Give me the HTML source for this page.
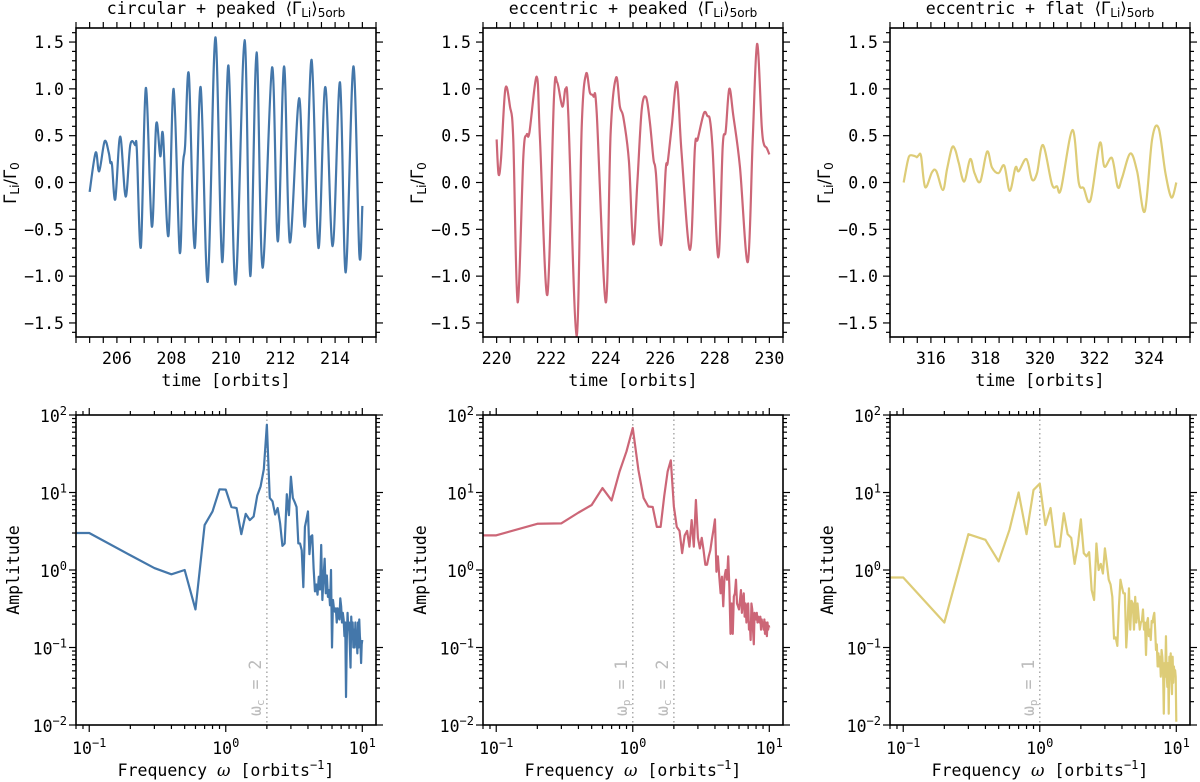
<!DOCTYPE html>
<html><head><meta charset="utf-8">
<style>
html,body{margin:0;padding:0;background:#fff;}
svg{display:block;font-family:"DejaVu Sans Mono","Liberation Mono",monospace;}
</style></head>
<body>
<svg id="fig" width="1200" height="782" viewBox="0 0 1200 782" xmlns="http://www.w3.org/2000/svg"></svg>
<script>
// ---- time-series data ----
const t1 = [205.0,205.22,205.35,205.55,205.70,205.76,205.82,205.94,206.12,206.32,206.49,206.67,206.73,206.88,207.06,207.28,207.44,207.59,207.69,207.89,208.08,208.30,208.42,208.50,208.64,208.85,209.07,209.33,209.61,209.86,210.09,210.35,210.68,210.89,211.12,211.34,211.69,211.90,212.13,212.34,212.68,212.89,213.14,213.39,213.64,213.91,214.18,214.39,214.67,214.89,215.0];
const v1 = [-0.10,0.32,0.12,0.44,0.32,0.21,0.19,-0.18,0.49,-0.15,0.40,0.40,0.35,-0.69,1.01,-0.47,0.62,0.28,0.51,-0.57,1.00,-0.74,0.17,0.39,1.15,-0.70,1.02,-1.06,1.55,-0.85,1.25,-1.09,1.52,-1.00,1.39,-0.91,1.23,-0.63,1.24,-0.64,0.90,-0.47,1.31,-0.70,1.02,-0.68,1.07,-0.96,1.24,-0.77,-0.25];
const t2 = [220.0,220.07,220.16,220.32,220.49,220.61,220.77,220.98,221.10,221.20,221.47,221.59,221.86,222.10,222.22,222.41,222.53,222.63,222.93,223.12,223.28,223.42,223.55,223.67,224.00,224.18,224.38,224.52,224.65,224.85,225.01,225.16,225.32,225.48,225.62,225.75,225.84,226.03,226.20,226.27,226.42,226.61,226.78,227.09,227.27,227.37,227.60,227.73,227.82,227.92,228.13,228.29,228.40,228.53,228.68,228.92,229.21,229.39,229.55,229.72,229.80,229.90,230.0];
const v2 = [0.46,0.09,0.25,1.00,0.81,0.46,-1.28,0.28,0.51,0.53,1.13,0.46,-1.20,0.89,1.07,0.81,1.00,0.71,-1.64,0.60,1.16,0.96,0.92,0.74,-1.28,0.53,1.12,0.81,0.69,0.23,-0.66,0.00,0.78,0.91,0.64,0.25,0.10,-0.67,0.14,0.21,0.60,1.07,0.32,-0.72,0.37,0.46,0.74,0.71,0.67,0.35,-0.80,0.39,0.55,1.00,0.71,0.17,-0.85,0.46,1.48,0.60,0.41,0.37,0.30];
const t3 = [315.0,315.15,315.24,315.43,315.49,315.55,315.64,315.79,316.04,316.20,316.44,316.59,316.77,316.89,317.02,317.22,317.44,317.60,317.81,318.06,318.24,318.48,318.69,318.89,319.10,319.22,319.50,319.71,319.89,320.11,320.44,320.62,320.77,321.19,321.42,321.60,321.85,322.19,322.36,322.64,322.85,323.01,323.31,323.56,323.84,324.11,324.35,324.60,324.82,325.0];
const v3 = [0.00,0.23,0.29,0.28,0.27,0.29,0.28,-0.05,0.11,0.12,-0.08,0.14,0.37,0.35,0.21,0.01,0.25,0.10,0.01,0.33,0.16,0.10,0.18,-0.09,0.16,0.12,0.25,0.03,0.10,0.40,-0.02,-0.04,-0.07,0.56,0.00,-0.06,-0.19,0.42,0.17,0.26,-0.05,0.05,0.31,0.12,-0.31,0.46,0.58,0.10,-0.16,0.00];
const timeTicks1 = [206,208,210,212,214];
const timeTicks2 = [220,222,224,226,228,230];
const timeTicks3 = [316,318,320,322,324];
const yTicks = [-1.5,-1.0,-0.5,0.0,0.5,1.0,1.5];
// ---- spectra data (frequency 0.1..10 step 0.1) ----
const freqStep = 0.1;
const amp1 = [3.0,1.55,1.06,0.88,1.0,0.31,3.8,5.7,11,10.9, 6.5,6.3,2.9,5.3,4.4,4.9,9.1,12,20,75, 8.5,7.7,5.2,6.3,4.0,2.05,2.2,9.5,5.1,16, 8.5,7.5,6.5,2.2,2.2,1.8,0.6,3.6,4.5,5.7, 1.6,2.7,2.8,1.05,0.53,0.65,0.48,0.82,0.56,2.1, 0.41,0.8,1.4,0.5,0.85,0.45,0.55,0.35,1.0,0.1, 0.41,0.32,0.29,0.32,0.21,0.32,0.25,0.23,0.43,0.34, 0.21,0.28,0.23,0.14,0.21,0.023,0.125,0.28,0.17,0.21, 0.11,0.055,0.25,0.14,0.21,0.10,0.17,0.10,0.21,0.11, 0.14,0.084,0.21,0.10,0.23,0.14,0.11,0.063,0.11,0.125];
const amp2 = [2.8,3.95,4.0,5.5,6.9,11.4,7.9,18.6,34,68, 19.5,8.5,6.6,6.5,3.6,3.6,9,18.6,26,6.6, 3.6,3.2,1.65,2.8,3.2,2.0,4.4,2.0,8.0,2.6, 1.9,2.6,1.8,1.17,1.17,1.5,1.8,2.5,3.3,4.5, 0.95,1.5,0.83,0.5,0.82,0.34,0.82,1.0,0.75,1.5, 0.6,0.15,0.37,0.15,0.455,0.5,0.75,0.37,0.34,0.31, 0.41,0.55,0.28,0.41,0.5,0.25,0.37,0.21,0.34,0.37, 0.17,0.21,0.125,0.37,0.31,0.17,0.11,0.28,0.25,0.23, 0.28,0.21,0.25,0.23,0.21,0.25,0.17,0.23,0.19,0.21, 0.17,0.23,0.15,0.21,0.19,0.14,0.21,0.17,0.19,0.18];
const amp3 = [0.8,0.21,2.9,2.45,1.29,3.3,10,2.9,10.8,13, 3.8,6.3,2.0,2.0,5.4,2.9,2.6,1.2,2.1,4.5, 1.65,1.5,1.7,0.55,0.41,2.2,1.0,1.2,0.9,1.9, 1.2,0.75,0.65,0.45,0.13,0.135,0.105,0.34,0.75,0.6, 0.5,0.5,0.1,0.21,0.58,0.17,0.4,0.37,0.17,0.45, 0.21,0.37,0.25,0.17,0.21,0.22,0.31,0.17,0.21,0.08, 0.21,0.24,0.14,0.17,0.125,0.22,0.21,0.25,0.28,0.17, 0.093,0.11,0.057,0.084,0.057,0.076,0.042,0.093,0.076,0.051, 0.014,0.063,0.042,0.14,0.046,0.031,0.063,0.014,0.076,0.046, 0.084,0.038,0.025,0.076,0.035,0.057,0.046,0.051,0.042,0.011];
const vlines1 = [2];
const vlines2 = [1,2];
const vlines3 = [1];

const NS = "http://www.w3.org/2000/svg";
const svg = document.getElementById('fig');
function mk(tag, attrs, parent){
  const e = document.createElementNS(NS, tag);
  for (const k in attrs) e.setAttribute(k, attrs[k]);
  (parent||svg).appendChild(e);
  return e;
}
const FS = 16.5, SUB = 12;
const PW = 300, TOP1 = 28, BOT1 = 337, TOP2 = 415, BOT2 = 725;
const lefts = [76, 483, 890];
const colors = ['#4477AA', '#CC6677', '#DDCC77'];
const titles = ['circular + peaked', 'eccentric + peaked', 'eccentric + flat'];
const SANS = 'font-family="DejaVu Sans, sans-serif"';

function smoothPath(pts){
  let d = 'M' + pts[0][0].toFixed(2) + ',' + pts[0][1].toFixed(2);
  for (let i = 0; i < pts.length - 1; i++){
    const p0 = pts[Math.max(i-1,0)], p1 = pts[i], p2 = pts[i+1], p3 = pts[Math.min(i+2,pts.length-1)];
    const c1x = p1[0] + (p2[0]-p0[0])/6, c1y = p1[1] + (p2[1]-p0[1])/6;
    const c2x = p2[0] - (p3[0]-p1[0])/6, c2y = p2[1] - (p3[1]-p1[1])/6;
    d += 'C' + c1x.toFixed(2)+','+c1y.toFixed(2)+' '+c2x.toFixed(2)+','+c2y.toFixed(2)+' '+p2[0].toFixed(2)+','+p2[1].toFixed(2);
  }
  return d;
}

function timePanel(i, ts, vs, ticks, xmin, xmax){
  const L = lefts[i], R = L + PW;
  const g = mk('g', {});
  
  
  const xs = v => L + (v - xmin) / (xmax - xmin) * PW;
  const ys = v => (TOP1 + BOT1)/2 - v / 3.3 * (BOT1 - TOP1);
  const cp = mk('clipPath', {id: 'clipT' + i}, g);
  mk('rect', {x: L, y: TOP1, width: PW, height: BOT1 - TOP1}, cp);
  for (let x = Math.ceil(xmin*2)/2; x <= xmax + 1e-9; x += 0.5){
    const px = xs(x);
    const tk1 = mk('line', {x1: px, x2: px, y1: BOT1, y2: BOT1 + 6, stroke: '#000', 'stroke-width': 1.2}, g);
    
    
    const tk2 = mk('line', {x1: px, x2: px, y1: TOP1, y2: TOP1 - 6, stroke: '#000', 'stroke-width': 1.2}, g);
    
    
  }
  for (let k = -16; k <= 16; k++){
    const v = k / 10, py = ys(v);
    const major = (k % 5 === 0);
    const len = major ? 7 : 4;
    const a = mk('line', {x1: L - len, x2: L, y1: py, y2: py, stroke: '#000', 'stroke-width': 1.2}, g);
    
    
    const b = mk('line', {x1: R, x2: R + len, y1: py, y2: py, stroke: '#000', 'stroke-width': 1.2}, g);
    
    
  }
  ticks.forEach(v => {
    const tx = mk('text', {x: xs(v), y: 364, 'text-anchor': 'middle', 'font-size': FS}, g);
    tx.textContent = String(v);
    
    
  });
  yTicks.forEach(v => {
    const tx = mk('text', {x: L - 12, y: ys(v) + 6, 'text-anchor': 'end', 'font-size': FS}, g);
    tx.textContent = (v < 0 ? '\u2212' : '') + Math.abs(v).toFixed(1);
    
    
  });
  const pts = ts.map((t, k) => [xs(t), ys(vs[k])]);
  const p = mk('path', {d: smoothPath(pts), fill: 'none', stroke: colors[i], 'stroke-width': 2.2, 'clip-path': 'url(#clipT' + i + ')', 'stroke-linejoin': 'round'}, g);
  
  
  const fr = mk('rect', {x: L, y: TOP1, width: PW, height: BOT1 - TOP1, fill: 'none', stroke: '#000', 'stroke-width': 1.6}, g);
  
  
  const tt = mk('text', {x: L + PW/2, y: 14, 'text-anchor': 'middle', 'font-size': FS}, g);
  
  
  tt.innerHTML = titles[i] + ' <tspan ' + SANS + '>\u27E8\u0393</tspan><tspan ' + SANS + ' font-size="' + SUB + '" dy="3">Li</tspan><tspan ' + SANS + ' dy="-3">\u27E9</tspan><tspan ' + SANS + ' font-size="' + SUB + '" dy="3">5orb</tspan>';
  const xl = mk('text', {x: L + PW/2, y: 386, 'text-anchor': 'middle', 'font-size': FS}, g);
  xl.textContent = 'time [orbits]';
  
  
  const yl = mk('text', {transform: 'translate(' + (L - 60) + ',183) rotate(-90)', 'text-anchor': 'middle', 'font-size': FS, 'font-family': 'DejaVu Sans, sans-serif'}, g);
  yl.innerHTML = '\u0393<tspan font-size="' + SUB + '" dy="3">Li</tspan><tspan dy="-3">/\u0393</tspan><tspan font-size="' + SUB + '" dy="3">0</tspan>';
  
  
}

function specPanel(i, amps, vlines, vlabels){
  const L = lefts[i], R = L + PW;
  const g = mk('g', {});
  
  
  const lxmin = Math.log10(0.08), lxmax = Math.log10(12.6);
  const xs = f => L + (Math.log10(f) - lxmin) / (lxmax - lxmin) * PW;
  const ys = a => TOP2 + (2 - Math.log10(a)) / 4 * (BOT2 - TOP2);
  const cp = mk('clipPath', {id: 'clipS' + i}, g);
  mk('rect', {x: L, y: TOP2, width: PW, height: BOT2 - TOP2}, cp);
  for (let e = -2; e <= 1; e++){
    for (let m = 1; m <= 9; m++){
      const f = m * Math.pow(10, e);
      if (f < 0.08 || f > 12.6) continue;
      const px = xs(f), len = m === 1 ? 7 : 4;
      const a = mk('line', {x1: px, x2: px, y1: BOT2, y2: BOT2 + len, stroke: '#000', 'stroke-width': 1.2}, g);
      
      
      const b = mk('line', {x1: px, x2: px, y1: TOP2, y2: TOP2 - len, stroke: '#000', 'stroke-width': 1.2}, g);
      
      
    }
  }
  for (let e = -2; e <= 2; e++){
    for (let m = 1; m <= 9; m++){
      const a0 = m * Math.pow(10, e);
      if (a0 > 100) continue;
      const py = ys(a0), len = m === 1 ? 7 : 4;
      const a = mk('line', {x1: L - len, x2: L, y1: py, y2: py, stroke: '#000', 'stroke-width': 1.2}, g);
      
      
      const b = mk('line', {x1: R, x2: R + len, y1: py, y2: py, stroke: '#000', 'stroke-width': 1.2}, g);
      
      
    }
  }
  [-1, 0, 1].forEach(e => {
    const tx = mk('text', {x: xs(Math.pow(10, e)), y: 754, 'text-anchor': 'middle', 'font-size': FS}, g);
    tx.innerHTML = '10<tspan font-size="' + SUB + '" dy="-7">' + (e < 0 ? '\u2212' : '') + Math.abs(e) + '</tspan>';
    
    
  });
  [-2, -1, 0, 1, 2].forEach(e => {
    const tx = mk('text', {x: L - 9, y: ys(Math.pow(10, e)) + 7, 'text-anchor': 'end', 'font-size': FS}, g);
    tx.innerHTML = '10<tspan font-size="' + SUB + '" dy="-7">' + (e < 0 ? '\u2212' : '') + Math.abs(e) + '</tspan>';
    
    
  });
  vlines.forEach((f, k) => {
    const px = xs(f);
    const l = mk('line', {x1: px, x2: px, y1: TOP2, y2: BOT2, stroke: '#aaa', 'stroke-width': 1.5, 'stroke-dasharray': '1.5,3'}, g);
    
    
    const tx = mk('text', {transform: 'translate(' + (px - 6) + ',716) rotate(-90)', 'font-size': FS, fill: '#bbb'}, g);
    tx.innerHTML = '\u03C9<tspan font-size="11" dy="3">' + vlabels[k] + '</tspan><tspan dy="-3"> = ' + f + '</tspan>';
    
    
  });
  const pts = amps.map((a, k) => [xs((k + 1) * freqStep), ys(a)]);
  let d = 'M' + L + ',' + pts[0][1].toFixed(2);
  pts.forEach(p => { d += 'L' + p[0].toFixed(2) + ',' + p[1].toFixed(2); });
  const p = mk('path', {d: d, fill: 'none', stroke: colors[i], 'stroke-width': 2.2, 'clip-path': 'url(#clipS' + i + ')', 'stroke-linejoin': 'round'}, g);
  
  
  const fr = mk('rect', {x: L, y: TOP2, width: PW, height: BOT2 - TOP2, fill: 'none', stroke: '#000', 'stroke-width': 1.6}, g);
  
  
  const xl = mk('text', {x: L + PW/2, y: 776, 'text-anchor': 'middle', 'font-size': FS}, g);
  xl.innerHTML = 'Frequency <tspan font-style="italic" font-family="DejaVu Serif, serif">\u03C9</tspan> [orbits<tspan font-size="' + SUB + '" dy="-7">\u22121</tspan><tspan dy="7">]</tspan>';
  
  
  const yl = mk('text', {transform: 'translate(' + (L - 57) + ',' + ((TOP2 + BOT2)/2) + ') rotate(-90)', 'text-anchor': 'middle', 'font-size': FS}, g);
  yl.textContent = 'Amplitude';
  
  
}

timePanel(0, t1, v1, timeTicks1, 204.5, 215.5);
timePanel(1, t2, v2, timeTicks2, 219.5, 230.5);
timePanel(2, t3, v3, timeTicks3, 314.5, 325.5);
specPanel(0, amp1, vlines1, ['c']);
specPanel(1, amp2, vlines2, ['p', 'c']);
specPanel(2, amp3, vlines3, ['p']);
</script>
</body></html>
